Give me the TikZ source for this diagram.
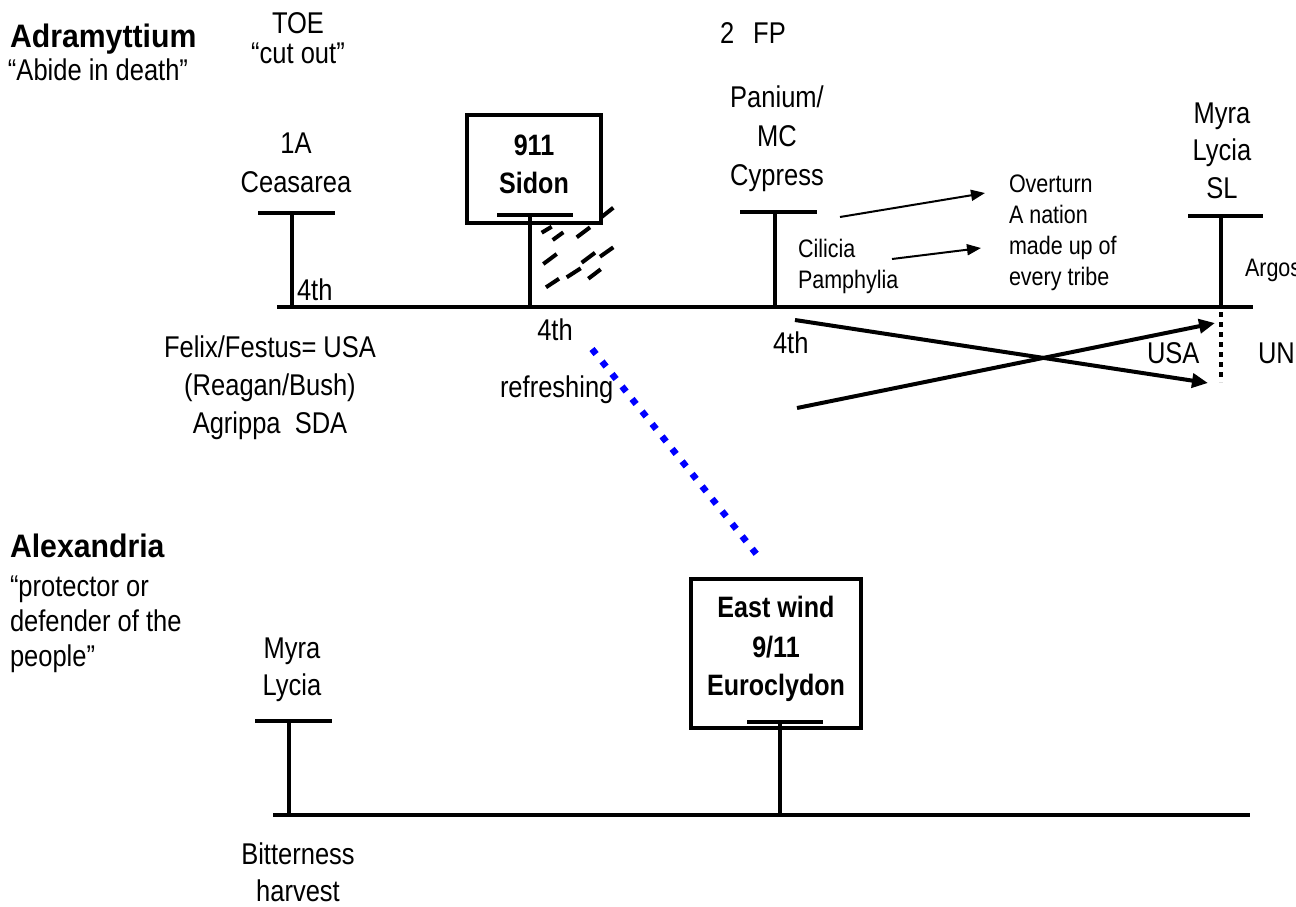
\documentclass[tikz,border=0pt]{standalone}
\usepackage{fontspec}
\setmainfont{Liberation Sans}[FakeStretch=0.85]
\newfontfamily\hdfont{Liberation Sans}[FakeStretch=0.93]
\usetikzlibrary{arrows.meta}
\begin{document}
\begin{tikzpicture}[x=1pt,y=-1pt,
  every node/.style={inner sep=0pt, outer sep=0pt},
  big/.style={font=\fontsize{30}{36}\selectfont, anchor=base},
  bigl/.style={font=\fontsize{30}{36}\selectfont, anchor=base west},
  sml/.style={font=\fontsize{25.3}{30}\selectfont, anchor=base west},
  hb/.style={font=\hdfont\bfseries\fontsize{32.5}{38}\selectfont, anchor=base west},
  bb/.style={font=\bfseries\fontsize{29.5}{35}\selectfont, anchor=base},
  tl/.style={line width=4pt},
  boxst/.style={draw, line width=4pt, fill=white},
  sarrow/.style={line width=2pt, -{Triangle[length=14pt,width=11pt]}},
  barrow/.style={line width=4pt, -{Triangle[length=16pt,width=14pt]}},
  hatch/.style={line width=4pt},
  bluedots/.style={draw=blue, line width=6.5pt, dash pattern=on 6.5pt off 9.5pt},
  blackdots/.style={line width=4pt, dash pattern=on 5pt off 5pt},
]
\useasboundingbox (0,0) rectangle (1296,906);

% ---------- top timeline ----------
\coordinate (L1a) at (277,307);
\coordinate (L1b) at (1253,307);
\draw[tl] (L1a) -- (L1b);

% Ceasarea tick
\coordinate (c1l) at (258,213); \coordinate (c1r) at (335,213);
\coordinate (c1t) at (292,213); \coordinate (c1b) at (292,307);
\draw[tl] (c1l) -- (c1r);
\draw[tl] (c1t) -- (c1b);

% Sidon hatching
\draw[hatch] (541.7,232.7) -- (551.7,226.7);
\draw[hatch] (552.7,240) -- (563.3,232.3);
\draw[hatch] (576.7,237.3) -- (590,227.3);
\draw[hatch] (600,218.3) -- (613.3,207.7);
\draw[hatch] (543.3,264) -- (556.7,254);
\draw[hatch] (581.7,262.7) -- (595,252.7);
\draw[hatch] (600,256.7) -- (613.3,247.3);
\draw[hatch] (546,287.3) -- (559,278.7);
\draw[hatch] (566.7,277.3) -- (580.7,268.3);
\draw[hatch] (588.3,278.7) -- (600.7,269.3);

% Sidon box
\node[boxst, minimum width=134pt, minimum height=108pt] (sidonbox) at (534,169) {};
\coordinate (s1l) at (497,215); \coordinate (s1r) at (573,215);
\coordinate (s1t) at (530,215); \coordinate (s1b) at (530,307);
\draw[tl] (s1l) -- (s1r);
\draw[tl] (s1t) -- (s1b);

% Panium tick
\coordinate (p1l) at (740,212); \coordinate (p1r) at (817,212);
\coordinate (p1t) at (775,212); \coordinate (p1b) at (775,307);
\draw[tl] (p1l) -- (p1r);
\draw[tl] (p1t) -- (p1b);

% Myra SL tick
\coordinate (m1l) at (1188,216); \coordinate (m1r) at (1263,216);
\coordinate (m1t) at (1221,216); \coordinate (m1b) at (1221,307);
\draw[tl] (m1l) -- (m1r);
\draw[tl] (m1t) -- (m1b);
\coordinate (d1t) at (1221,312); \coordinate (d1b) at (1221,382);
\draw[blackdots] (d1t) -- (d1b);

% ---------- bottom timeline ----------
\coordinate (L2a) at (273,815);
\coordinate (L2b) at (1250,815);
\draw[tl] (L2a) -- (L2b);
\coordinate (b1l) at (255,721); \coordinate (b1r) at (332,721);
\coordinate (b1t) at (289,721); \coordinate (b1b) at (289,815);
\draw[tl] (b1l) -- (b1r);
\draw[tl] (b1t) -- (b1b);

\node[boxst, minimum width=170pt, minimum height=149pt] (ewbox) at (776,653.5) {};
\coordinate (e1l) at (747,722); \coordinate (e1r) at (823,722);
\coordinate (e1t) at (780,722); \coordinate (e1b) at (780,815);
\draw[tl] (e1l) -- (e1r);
\draw[tl] (e1t) -- (e1b);

% blue dotted link
\coordinate (bl1) at (592,349); \coordinate (bl2) at (762,561);
\draw[bluedots] (bl1) -- (bl2);

% arrows
\coordinate (a1s) at (840,217); \coordinate (a1e) at (985,193);
\coordinate (a2s) at (892,259); \coordinate (a2e) at (981,248);
\draw[sarrow] (a1s) -- (a1e);
\draw[sarrow] (a2s) -- (a2e);
\coordinate (a3s) at (795,320); \coordinate (a3e) at (1208,383);
\coordinate (a4s) at (797,408); \coordinate (a4e) at (1215,323);
\draw[barrow] (a3s) -- (a3e);
\draw[barrow] (a4s) -- (a4e);

% ---------- texts ----------
\node[hb] (adra) at (10,47) {Adramyttium};
\node[bigl] (abide) at (8,80) {“Abide in death”};
\node[big] (toe) at (298,33) {TOE};
\node[big] (cut) at (298,63) {“cut out”};
\node[bigl] (fp) at (720,43) {2\hspace{19pt}FP};

\node[big] (oneA) at (296,153) {1A};
\node[big] (ceas) at (296,192) {Ceasarea};
\node[bb] (n911) at (534,155) {911};
\node[bb] (sidon) at (534,193) {Sidon};
\node[big] (panium) at (777,107) {Panium/};
\node[big] (mc) at (777,146) {MC};
\node[big] (cyp) at (777,185) {Cypress};
\node[big] (myra1) at (1222,123) {Myra};
\node[big] (lycia1) at (1222,160) {Lycia};
\node[big] (sl) at (1222,198) {SL};

\node[sml] (over) at (1009,192) {Overturn};
\node[sml] (nat) at (1009,223) {A nation};
\node[sml] (made) at (1009,254) {made up of};
\node[sml] (tribe) at (1009,285) {every tribe};
\node[sml] (cil) at (798,257) {Cilicia};
\node[sml] (pam) at (798,288) {Pamphylia};
\node[sml] (argos) at (1245,276) {Argos};

\node[bigl] (fourA) at (297,300) {4th};
\node[big] (fourB) at (555,340) {4th};
\node[bigl] (fresh) at (500,397) {refreshing};
\node[bigl] (fourC) at (773,353) {4th};
\node[bigl] (usa) at (1147,363) {USA};
\node[bigl] (un) at (1258,363) {UN};

\node[big] (felix) at (270,357) {Felix/Festus= USA};
\node[big] (reagan) at (270,395) {(Reagan/Bush)};
\node[big] (agr) at (270,433) {Agrippa\ \ SDA};

\node[hb] (alex) at (10,557) {Alexandria};
\node[bigl] (prot1) at (10,596) {“protector or};
\node[bigl] (prot2) at (10,631) {defender of the};
\node[bigl] (prot3) at (10,666) {people”};
\node[big] (myra2) at (292,658) {Myra};
\node[big] (lycia2) at (292,695) {Lycia};

\node[bb] (ew) at (776,617) {East wind};
\node[bb] (n911b) at (776,657) {9/11};
\node[bb] (euro) at (776,695) {Euroclydon};

\node[big] (bit) at (298,864) {Bitterness};
\node[big] (harv) at (298,901) {harvest};
\end{tikzpicture}
\end{document}
